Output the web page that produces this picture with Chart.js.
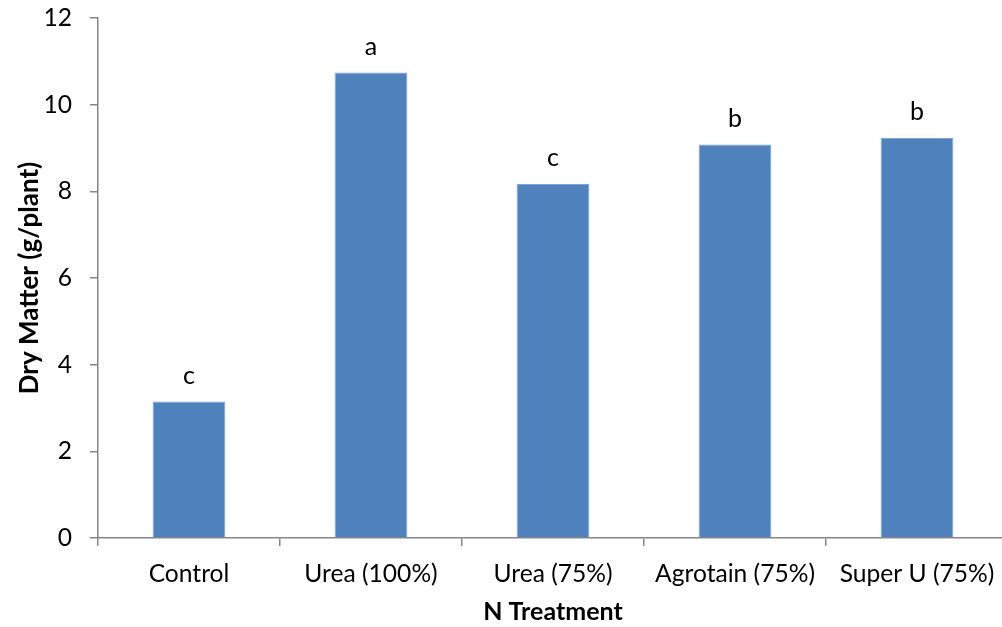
<!DOCTYPE html>
<html>
<head>
<meta charset="utf-8">
<script src="https://cdn.jsdelivr.net/npm/chart.js@4/dist/chart.umd.min.js"></script>
<style>
  html, body { margin: 0; padding: 0; background: #fff; overflow: hidden; }
  #wrap { width: 1010px; height: 627px; position: relative; }
</style>
</head>
<body>
<div id="wrap"><canvas id="c"></canvas></div>
<script>
const categories = ["Control", "Urea (100%)", "Urea (75%)", "Agrotain (75%)", "Super U (75%)"];
const dryMatter = [3.15, 10.74, 8.17, 9.08, 9.23];
const letters = ["c", "a", "c", "b", "b"];
const yTicks = [0, 2, 4, 6, 8, 10, 12];

const FONT = "Lato, 'Open Sans', sans-serif";

const letterPlugin = {
  id: 'letters',
  afterDatasetsDraw(chart) {
    const ctx = chart.ctx;
    const meta = chart.getDatasetMeta(0);
    ctx.save();
    ctx.font = "25px " + FONT;
    ctx.fillStyle = "#000";
    ctx.textAlign = "center";
    ctx.textBaseline = "alphabetic";
    meta.data.forEach((bar, i) => {
      ctx.fillText(letters[i], bar.x, bar.y - 18);
    });
    ctx.restore();
  }
};

new Chart(document.getElementById('c'), {
  type: 'bar',
  data: {
    labels: categories,
    datasets: [{
      data: dryMatter,
      backgroundColor: '#4F81BD',
      borderColor: '#7EA3D3',
      borderWidth: 1,
      barPercentage: 0.4,
      categoryPercentage: 1.0
    }]
  },
  options: {
    responsive: true,
    maintainAspectRatio: false,
    animation: false,
    layout: { padding: { top: 0, right: 2, bottom: 0, left: 14 } },
    plugins: { legend: { display: false }, tooltip: { enabled: false } },
    scales: {
      x: {
        afterFit(axis) { axis.height = 89; },
        grid: { display: true, drawOnChartArea: false, drawTicks: true, tickLength: 8, color: '#868686', lineWidth: 1.5 },
        border: { display: true, color: '#868686', width: 1.5 },
        ticks: { color: '#000', font: { family: FONT, size: 24.6 }, padding: 13, maxRotation: 0, autoSkip: false },
        title: { display: true, text: 'N Treatment', color: '#000', font: { family: FONT, size: 25, weight: 'bold' }, padding: { top: 4, bottom: 0 } }
      },
      y: {
        min: 0, max: 12,
        afterBuildTicks(axis) { axis.ticks = yTicks.map(v => ({ value: v })); },
        afterFit(axis) { axis.width = 84; axis.paddingTop = 18; axis.paddingBottom = 0; },
        grid: { display: true, drawOnChartArea: false, drawTicks: true, tickLength: 8, color: '#868686', lineWidth: 1.5 },
        border: { display: true, color: '#868686', width: 1.5 },
        ticks: { color: '#000', font: { family: FONT, size: 24.6 }, padding: 18 },
        title: { display: true, text: 'Dry Matter (g/plant)', color: '#000', font: { family: FONT, size: 26, weight: 'bold' }, padding: { top: 0, bottom: 0 } }
      }
    }
  },
  plugins: [letterPlugin]
});
</script>
</body>
</html>
